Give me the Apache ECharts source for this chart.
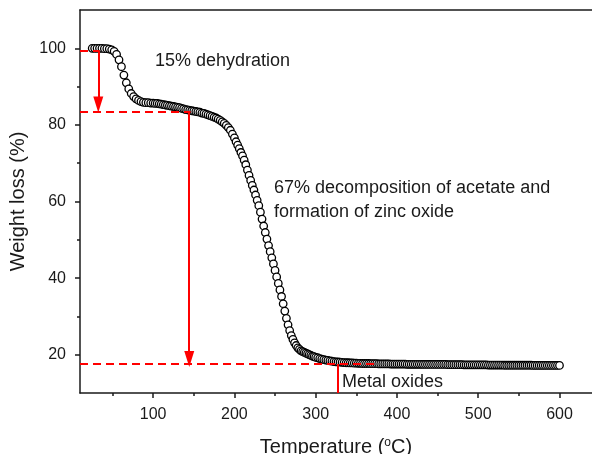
<!DOCTYPE html>
<html>
<head>
<meta charset="utf-8">
<script src="https://cdn.jsdelivr.net/npm/echarts@6/dist/echarts.min.js"></script>
<style>
  html, body { margin: 0; padding: 0; background: #fff; }
  #chart { width: 592px; height: 454px; }
</style>
</head>
<body>
<div id="chart"></div>
<script>
// TGA curve
const temperatures = [
  25, 28, 31, 34, 37, 40, 43, 46, 49, 52, 55, 58, 61, 64, 67, 70, 73, 76, 79, 82, 85, 88,
  91, 94, 97, 100,
  102.5, 105, 107.5, 110, 112.5, 115, 117.5, 120, 122.5, 125, 127.5, 130, 132.5, 135, 137.5, 140, 142.5, 145, 147.5, 150,
  152.5, 155, 157.5, 160, 162.5, 165, 167.5, 170, 172.5, 175, 177.5, 180, 182.5, 185, 187.5, 190, 192.5, 195, 197.5, 200,
  202, 204, 206, 208, 210, 212, 214, 216, 218, 220, 222, 224, 226, 228, 230,
  232, 234, 236, 238, 240, 242, 244, 246, 248, 250, 252, 254, 256, 258, 260,
  262, 264, 266, 268, 270, 272, 274, 276, 278, 280, 282, 284, 286, 288, 290,
  292, 294, 296, 298, 300,
  302.5, 305, 307.5, 310, 312.5, 315, 317.5, 320, 322.5, 325, 327.5, 330, 332.5, 335, 337.5, 340, 342.5, 345, 347.5, 350,
  352.5, 355, 357.5, 360, 362.5, 365, 367.5, 370, 372.5, 375, 377.5, 380, 382.5, 385, 387.5, 390, 392.5, 395, 397.5, 400,
  402.5, 405, 407.5, 410, 412.5, 415, 417.5, 420, 422.5, 425, 427.5, 430, 432.5, 435, 437.5, 440, 442.5, 445, 447.5, 450,
  452.5, 455, 457.5, 460, 462.5, 465, 467.5, 470, 472.5, 475, 477.5, 480, 482.5, 485, 487.5, 490, 492.5, 495, 497.5, 500,
  502.5, 505, 507.5, 510, 512.5, 515, 517.5, 520, 522.5, 525, 527.5, 530, 532.5, 535, 537.5, 540, 542.5, 545, 547.5, 550,
  552.5, 555, 557.5, 560, 562.5, 565, 567.5, 570, 572.5, 575, 577.5, 580, 582.5, 585, 587.5, 590, 592.5, 595, 597.5, 600
];
const weightLoss = [
  100, 100, 100, 100, 100, 99.9, 99.9, 99.8, 99.6, 99.2, 98.4, 97.0, 95.2, 93.0, 91.0, 89.4, 88.2, 87.4, 86.8, 86.4, 86.1, 85.9,
  85.8, 85.8, 85.7, 85.7,
  85.6, 85.6, 85.5, 85.4, 85.3, 85.2, 85.1, 85.0, 84.9, 84.8, 84.7, 84.6, 84.5, 84.3, 84.2, 84.0, 83.9, 83.8, 83.7, 83.6,
  83.5, 83.4, 83.3, 83.1, 83.0, 82.8, 82.6, 82.4, 82.2, 82.0, 81.8, 81.5, 81.2, 80.8, 80.4, 79.9, 79.3, 78.6, 77.6, 76.6,
  75.6, 74.7, 73.8, 72.8, 71.9, 70.8, 69.6, 68.2, 66.8, 65.5, 64.2, 63.0, 61.7, 60.3, 58.9,
  57.2, 55.4, 53.6, 51.9, 50.2, 48.5, 46.9, 45.3, 43.7, 42.0, 40.3, 38.6, 36.9, 35.2, 33.3,
  31.4, 29.5, 27.8, 26.3, 25.0, 24.0, 23.1, 22.4, 21.8, 21.4, 21.0, 20.8, 20.6, 20.4, 20.2,
  20.0, 19.8, 19.6, 19.5, 19.3,
  19.2, 19.0, 18.85, 18.7, 18.6, 18.5, 18.4, 18.3, 18.2, 18.15, 18.1, 18.05, 18.0, 17.95, 17.9, 17.9, 17.85, 17.85, 17.8, 17.8,
  17.75, 17.75, 17.7, 17.7, 17.7, 17.7, 17.65, 17.65, 17.65, 17.65, 17.6, 17.6, 17.6, 17.6, 17.6, 17.6, 17.55, 17.55, 17.55, 17.55,
  17.55, 17.55, 17.55, 17.55, 17.5, 17.5, 17.5, 17.5, 17.5, 17.5, 17.5, 17.5, 17.45, 17.45, 17.45, 17.45, 17.45, 17.45, 17.45, 17.45,
  17.45, 17.45, 17.45, 17.45, 17.4, 17.4, 17.4, 17.4, 17.4, 17.4, 17.4, 17.4, 17.35, 17.35, 17.35, 17.35, 17.35, 17.35, 17.35, 17.35,
  17.35, 17.35, 17.35, 17.35, 17.3, 17.3, 17.3, 17.3, 17.3, 17.3, 17.3, 17.3, 17.25, 17.25, 17.25, 17.25, 17.25, 17.25, 17.25, 17.25,
  17.25, 17.25, 17.25, 17.25, 17.25, 17.25, 17.2, 17.2, 17.2, 17.2, 17.2, 17.2, 17.2, 17.2, 17.2, 17.2, 17.2, 17.2, 17.2, 17.2
];

const xTicks = [100, 200, 300, 400, 500, 600];
const xMinorTicks = [50, 150, 250, 350, 450, 550];
const yTicks = [20, 40, 60, 80, 100];
const yMinorTicks = [30, 50, 70, 90];

// annotation levels (weight %)
const startLevel = 99.3;
const dehydratedLevel = 83.4;
const residueLevel = 17.6;

const axisColor = '#1a1a1a';
const red = '#ff0000';
const font = '"Liberation Sans", Arial, sans-serif';

const chart = echarts.init(document.getElementById('chart'));

const points = temperatures.map((t, i) => [t, weightLoss[i]]);

const dashed = { color: red, width: 2, type: [8, 5] };
const solid = { color: red, width: 2, type: 'solid' };

const option = {
  animation: false,
  backgroundColor: '#fff',
  grid: { left: 80, right: 0, top: 10, bottom: 61, outerBoundsMode: 'none', containLabel: false },
  xAxis: [
    {
      type: 'value', min: 10, max: 640, position: 'bottom',
      name: '{n|Temperature (}{s|o}{n|C)}',
      nameLocation: 'middle', nameGap: 44,
      nameTextStyle: {
        rich: {
          n: { fontSize: 20, fontFamily: font, color: axisColor },
          s: { fontSize: 12, fontFamily: font, color: axisColor, verticalAlign: 'top', padding: [0, 0, 8, 0] }
        }
      },
      axisLine: { show: true, lineStyle: { color: axisColor, width: 1.5 } },
      axisTick: { show: true, customValues: xTicks, length: 5, lineStyle: { color: axisColor, width: 1.5 } },
      axisLabel: { customValues: xTicks, fontSize: 16, fontFamily: font, color: axisColor, margin: 14 },
      splitLine: { show: false }
    },
    {
      type: 'value', min: 10, max: 640, position: 'bottom',
      axisLine: { show: false },
      axisTick: { show: true, customValues: xMinorTicks, length: 3, lineStyle: { color: axisColor, width: 1.5 } },
      axisLabel: { show: false },
      splitLine: { show: false }
    },
    {
      type: 'value', min: 10, max: 640, position: 'top',
      axisLine: { show: true, lineStyle: { color: axisColor, width: 1.5 } },
      axisTick: { show: false },
      axisLabel: { show: false },
      splitLine: { show: false }
    }
  ],
  yAxis: [
    {
      type: 'value', min: 10, max: 110, position: 'left',
      name: 'Weight loss (%)',
      nameLocation: 'middle', nameGap: 47,
      nameTextStyle: { fontSize: 20, fontFamily: font, color: axisColor },
      axisLine: { show: true, lineStyle: { color: axisColor, width: 1.5 } },
      axisTick: { show: true, customValues: yTicks, length: 5, lineStyle: { color: axisColor, width: 1.5 } },
      axisLabel: { customValues: yTicks, fontSize: 16, fontFamily: font, color: axisColor, margin: 14 },
      splitLine: { show: false }
    },
    {
      type: 'value', min: 10, max: 110, position: 'left',
      axisLine: { show: false },
      axisTick: { show: true, customValues: yMinorTicks, length: 3, lineStyle: { color: axisColor, width: 1.5 } },
      axisLabel: { show: false },
      splitLine: { show: false }
    }
  ],
  series: [
    {
      type: 'scatter',
      xAxisIndex: 0, yAxisIndex: 0,
      data: points,
      symbol: 'circle',
      symbolSize: 7.5,
      itemStyle: { color: '#fff', borderColor: '#000', borderWidth: 1.3, opacity: 1 },
      z: 2
    },
    {
      type: 'line',
      xAxisIndex: 0, yAxisIndex: 0,
      data: [],
      z: 5,
      markLine: {
        silent: true,
        animation: false,
        symbol: 'none',
        label: { show: false },
        emphasis: { disabled: true },
        data: [
          [{ coord: [10, startLevel], lineStyle: dashed }, { coord: [34, startLevel] }],
          [{ coord: [32.5, startLevel], lineStyle: solid }, { coord: [32.5, 85.3], symbol: 'triangle', symbolSize: [10, 16] }],
          [{ coord: [10, dehydratedLevel], lineStyle: dashed }, { coord: [146, dehydratedLevel] }],
          [{ coord: [144.4, dehydratedLevel], lineStyle: solid }, { coord: [144.4, 18.9], symbol: 'triangle', symbolSize: [10, 16] }],
          [{ coord: [10, residueLevel], lineStyle: dashed }, { coord: [376, residueLevel] }],
          [{ coord: [327, residueLevel], lineStyle: solid }, { coord: [327, 10] }]
        ]
      }
    }
  ],
  graphic: [
    { type: 'text', left: 155, top: 52, style: { text: '15% dehydration', font: '18px ' + font, fill: axisColor } },
    {
      type: 'text', left: 274, top: 176,
      style: { text: '67% decomposition of acetate and\nformation of zinc oxide', font: '18px ' + font, fill: axisColor, lineHeight: 24 }
    },
    { type: 'text', left: 342, top: 373, style: { text: 'Metal oxides', font: '18px ' + font, fill: axisColor } }
  ]
};

chart.setOption(option);
</script>
</body>
</html>
